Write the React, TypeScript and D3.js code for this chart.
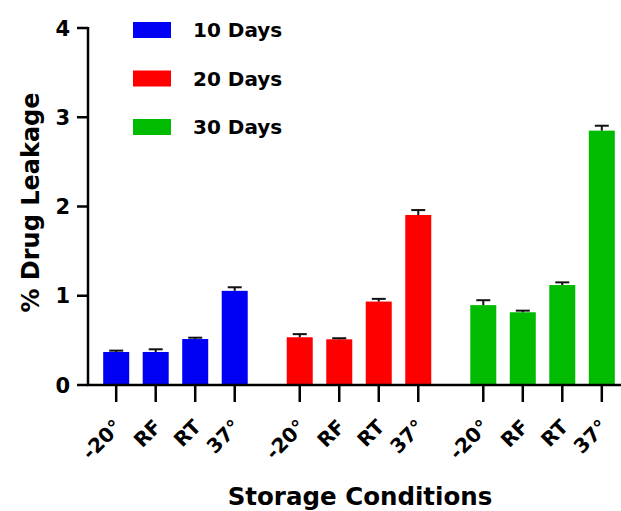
import React, { useEffect } from 'react';
import * as d3 from 'd3';

// data
const groups = ['10 Days', '20 Days', '30 Days'];
const conditions = ['-20°', 'RF', 'RT', '37°'];
const means10 = [0.37, 0.37, 0.515, 1.055];
const means20 = [0.535, 0.512, 0.935, 1.905];
const means30 = [0.895, 0.815, 1.12, 2.85];
const err10 = [0.015, 0.03, 0.015, 0.04];
const err20 = [0.035, 0.012, 0.03, 0.055];
const err30 = [0.055, 0.018, 0.03, 0.055];
const yTicks = [0, 1, 2, 3, 4];
const colors = ['#0000f5', '#ff0000', '#00bb00'];

const W = 621;
const H = 511;
const font = '"DejaVu Sans", Verdana, sans-serif';

export default function App() {
  useEffect(() => {
    document.body.style.margin = '0';
  }, []);

  const means = [means10, means20, means30];
  const errs = [err10, err20, err30];

  const y = d3.scaleLinear().domain([0, 4]).range([385, 28]);
  const x0 = d3
    .scaleBand()
    .domain(groups)
    .range([88, 630])
    .paddingInner(0.139)
    .paddingOuter(0.046);
  const x1 = d3.scaleBand().domain(conditions).range([0, x0.bandwidth()]);
  const barW = 26;
  const capW = 14;

  return (
    <svg width={W} height={H} style={{ display: 'block', background: '#fff' }} fontFamily={font} fontWeight="bold">
      {/* bars */}
      {groups.map((g, gi) =>
        conditions.map((c, ci) => {
          const cx = x0(g)! + x1(c)! + x1.bandwidth() / 2;
          const v = means[gi][ci];
          const e = errs[gi][ci];
          return (
            <g key={g + c}>
              <rect x={cx - barW / 2} y={y(v)} width={barW} height={y(0) - y(v)} fill={colors[gi]} />
              <line x1={cx} x2={cx} y1={y(v)} y2={y(v + e)} stroke="#111" strokeWidth={2} />
              <line x1={cx - capW / 2} x2={cx + capW / 2} y1={y(v + e)} y2={y(v + e)} stroke="#111" strokeWidth={2} />
            </g>
          );
        })
      )}

      {/* y axis */}
      <line x1={88} x2={88} y1={y(4) - 1} y2={y(0) + 1} stroke="#000" strokeWidth={2.5} />
      {yTicks.map((t) => (
        <g key={t}>
          <line x1={77} x2={88} y1={y(t)} y2={y(t)} stroke="#000" strokeWidth={2.5} />
          <text x={70} y={y(t)} dy="0.36em" textAnchor="end" fontSize={21}>
            {t}
          </text>
        </g>
      ))}
      <text transform={`translate(39,202.5) rotate(-90)`} textAnchor="middle" fontSize={24}>
        % Drug Leakage
      </text>

      {/* x axis */}
      <line x1={87} x2={W} y1={y(0)} y2={y(0)} stroke="#000" strokeWidth={2.5} />
      {groups.map((g) =>
        conditions.map((c) => {
          const cx = x0(g)! + x1(c)! + x1.bandwidth() / 2;
          return (
            <g key={'t' + g + c}>
              <line x1={cx} x2={cx} y1={y(0)} y2={y(0) + 17} stroke="#000" strokeWidth={2.5} />
              <text transform={`translate(${cx + 7},${y(0) + 43}) rotate(-45)`} textAnchor="end" fontSize={20}>
                {c}
              </text>
            </g>
          );
        })
      )}
      <text x={360} y={505} textAnchor="middle" fontSize={24.5}>
        Storage Conditions
      </text>

      {/* legend */}
      {groups.map((g, gi) => (
        <g key={'l' + g} transform={`translate(133,${22 + gi * 48.5})`}>
          <rect width={38} height={16} fill={colors[gi]} />
          <text x={60} y={8} dy="0.36em" fontSize={20}>
            {g}
          </text>
        </g>
      ))}
    </svg>
  );
}
